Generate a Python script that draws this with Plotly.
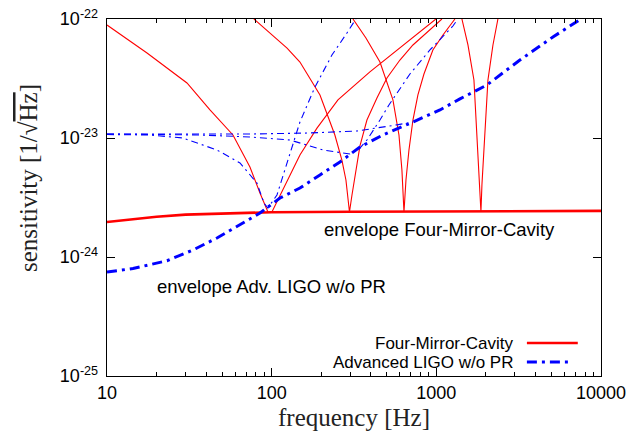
import plotly.graph_objects as go

# ---------------- data ----------------
# Four-Mirror-Cavity: envelope
fmc_env_f = [10, 15, 20, 30, 50, 100, 300, 1000, 3000, 10000]
fmc_env_s = [1.97e-24, 2.10e-24, 2.18e-24, 2.27e-24, 2.33e-24, 2.38e-24, 2.40e-24, 2.41e-24, 2.42e-24, 2.44e-24]

# Four-Mirror-Cavity: individual detunings
fmc1_f = [10, 17.5, 30.6, 42.2, 58.2, 73.8, 84.9, 94.9, 100.4, 124, 148.5, 188.4, 252.7, 395, 601, 994]
fmc1_s = [8.9e-23, 5.18e-23, 2.9e-23, 1.72e-23, 1.06e-23, 5.71e-24, 3.45e-24, 2.39e-24, 2.39e-24,
          4.27e-24, 7.2e-24, 1.21e-23, 2.09e-23, 3.59e-23, 5.71e-23, 1.0e-22]

fmc2_f = [78, 124, 148.5, 196.5, 242, 267, 282.5, 296.8, 307.4, 320.4, 343.7, 378.9, 435.8, 501.3, 601, 721, 1081]
fmc2_s = [1.0e-22, 5.7e-23, 4.35e-23, 2.3e-23, 1.06e-23, 6.53e-24, 4.44e-24, 2.39e-24, 3.32e-24,
          4.89e-24, 8.57e-24, 1.416e-23, 2.17e-23, 3.19e-23, 4.52e-23, 6.05e-23, 1.0e-22]

fmc3_f = [311.7, 373.7, 454.6, 545, 593, 618, 636, 654, 682, 721, 773, 841, 953, 1097, 1297]
fmc3_s = [1.0e-22, 6.92e-23, 4.35e-23, 2.09e-23, 1.06e-23, 5.38e-24, 2.39e-24, 4.44e-24, 7.93e-24,
          1.416e-23, 2.3e-23, 3.45e-23, 5.49e-23, 7.34e-23, 1.0e-22]

fmc4_f = [1430, 1556, 1692, 1789, 1840, 1866, 1892, 1945, 2058, 2207, 2366]
fmc4_s = [1.0e-22, 6.05e-23, 3.07e-23, 8.24e-24, 4.03e-24, 2.39e-24, 4.03e-24, 8.24e-24, 3.07e-23, 6.05e-23, 1.0e-22]

# Advanced LIGO w/o PR: envelope
ligo_env_f = [10, 14.38, 23.14, 33.28, 46.55, 64.2, 84.9, 112.3, 148.5, 196.5, 259.8, 343.7,
              474, 721, 1052, 1391, 2029, 3218, 5105, 7551]
ligo_env_s = [7.48e-25, 8.0e-25, 9.3e-25, 1.145e-24, 1.445e-24, 1.857e-24, 2.34e-24, 3.13e-24,
              3.80e-24, 4.89e-24, 6.29e-24, 8.40e-24, 1.06e-23, 1.362e-23, 1.72e-23, 2.13e-23,
              2.79e-23, 4.52e-23, 7.06e-23, 1.0e-22]

# Advanced LIGO w/o PR: individual detunings
ligo1_f = [10, 36.7, 73.8, 164, 330, 577, 721]
ligo1_s = [1.08e-23, 1.08e-23, 1.08e-23, 1.10e-23, 1.145e-23, 1.29e-23, 1.36e-23]

ligo2_f = [10, 18.2, 28.9, 46.55, 64.2, 81.4, 89.8, 94.9, 107.7, 124, 148.5, 183.2, 232.3, 286.5, 324.9]
ligo2_s = [1.07e-23, 1.06e-23, 1.0e-23, 7.93e-24, 6.17e-24, 4.18e-24, 2.84e-24, 2.58e-24, 3.32e-24,
           6.29e-24, 1.362e-23, 2.68e-23, 4.98e-23, 7.63e-23, 1.0e-22]

ligo3_f = [10, 36.7, 73.8, 129.2, 204.9, 298.8, 343.7, 378.9, 454.6, 515.5, 691.3, 914.5, 1261, 1352]
ligo3_s = [1.08e-23, 1.06e-23, 1.02e-23, 9.62e-24, 7.93e-24, 7.34e-24, 8.24e-24, 9.62e-24,
           1.416e-23, 1.894e-23, 3.45e-23, 5.49e-23, 8.73e-23, 1.0e-22]

x_ticks = [10, 100, 1000, 10000]
x_ticktext = ["10", "100", "1000", "10000"]
x_minor = [20, 30, 40, 50, 60, 70, 80, 90, 200, 300, 400, 500, 600, 700, 800, 900,
           2000, 3000, 4000, 5000, 6000, 7000, 8000, 9000]
y_ticks = [1e-25, 1e-24, 1e-23, 1e-22]
y_ticktext = ["10<sup>-25</sup>", "10<sup>-24</sup>", "10<sup>-23</sup>", "10<sup>-22</sup>"]

legend_labels = ["Four-Mirror-Cavity", "Advanced LIGO w/o PR"]
x_title = "frequency [Hz]"
y_title = "sensitivity [1/√<span style='text-decoration:overline'>Hz</span>]"

RED = "#ff0000"
BLUE = "#0000ff"
THIN_DASH = "7px,4px,2px,4px"
THICK_DASH = "10px,5px,3px,5px"

fig = go.Figure()

for f, s in [(fmc1_f, fmc1_s), (fmc2_f, fmc2_s), (fmc3_f, fmc3_s), (fmc4_f, fmc4_s)]:
    fig.add_trace(go.Scatter(x=f, y=s, mode="lines", line=dict(color=RED, width=1.1),
                             showlegend=False, hoverinfo="skip"))
fig.add_trace(go.Scatter(x=fmc_env_f, y=fmc_env_s, mode="lines", line=dict(color=RED, width=2.6),
                         showlegend=False, hoverinfo="skip"))

for f, s in [(ligo1_f, ligo1_s), (ligo2_f, ligo2_s), (ligo3_f, ligo3_s)]:
    fig.add_trace(go.Scatter(x=f, y=s, mode="lines", line=dict(color=BLUE, width=1.1, dash=THIN_DASH),
                             showlegend=False, hoverinfo="skip"))
fig.add_trace(go.Scatter(x=ligo_env_f, y=ligo_env_s, mode="lines",
                         line=dict(color=BLUE, width=3, dash=THICK_DASH),
                         showlegend=False, hoverinfo="skip"))
# invisible trace on the top/right axes so that their ticks are drawn
fig.add_trace(go.Scatter(x=[10, 10000], y=[1e-25, 1e-25], xaxis="x2", yaxis="y2", mode="lines",
                         line=dict(width=0), opacity=0, showlegend=False, hoverinfo="skip"))

sans = "Liberation Sans"
serif = "Liberation Serif"

common_x = dict(
    type="log", range=[1, 4],
    tickmode="array", tickvals=x_ticks,
    ticks="inside", ticklen=8, tickwidth=1, tickcolor="black",
    minor=dict(tickmode="array", tickvals=x_minor, ticks="inside", ticklen=4,
               tickwidth=1, tickcolor="black", showgrid=False),
    showline=True, linecolor="black", linewidth=1.3,
    showgrid=False, zeroline=False, automargin=False,
)
common_y = dict(
    type="log", range=[-25, -22],
    tickmode="array", tickvals=y_ticks,
    ticks="inside", ticklen=8, tickwidth=1, tickcolor="black",
    showline=True, linecolor="black", linewidth=1.3,
    showgrid=False, zeroline=False, automargin=False,
)

L, T, W, H = 107, 19, 642 - 107 - 41, 435 - 19 - 59

fig.update_layout(
    width=642, height=435,
    margin=dict(l=L, r=41, t=T, b=59),
    paper_bgcolor="white", plot_bgcolor="white",
    showlegend=False,
    xaxis=dict(
        **common_x,
        ticktext=x_ticktext,
        tickfont=dict(family=sans, size=18, color="black"),
        title=dict(text=x_title, font=dict(family=serif, size=25, color="#222"), standoff=6),
    ),
    xaxis2=dict(**common_x, overlaying="x", side="top", showticklabels=False),
    yaxis=dict(
        **common_y,
        ticktext=y_ticktext,
        ticklabelstandoff=4,
        tickfont=dict(family=sans, size=18, color="black"),
    ),
    yaxis2=dict(**common_y, overlaying="y", side="right", showticklabels=False),
    annotations=[
        dict(x=(28 - L) / W, y=(T + H - 178) / H, xref="paper", yref="paper", text=y_title,
             textangle=-90, showarrow=False, xanchor="center", yanchor="middle",
             font=dict(family=serif, size=25, color="#222")),
        dict(x=2.3054, y=-23.765, xref="x", yref="y", text="envelope Four-Mirror-Cavity",
             showarrow=False, xanchor="left", yanchor="middle",
             font=dict(family=sans, size=18.5, color="black")),
        dict(x=1.2914, y=-24.252, xref="x", yref="y", text="envelope Adv. LIGO w/o PR",
             showarrow=False, xanchor="left", yanchor="middle",
             font=dict(family=sans, size=18.5, color="black")),
        dict(x=0.826, y=0.0924, xref="paper", yref="paper", text=legend_labels[0],
             showarrow=False, xanchor="right", yanchor="middle",
             font=dict(family=sans, size=17, color="black")),
        dict(x=0.826, y=0.0392, xref="paper", yref="paper", text=legend_labels[1],
             showarrow=False, xanchor="right", yanchor="middle",
             font=dict(family=sans, size=17, color="black")),
    ],
    shapes=[
        dict(type="line", xref="paper", yref="paper", x0=0.850, x1=0.953, y0=0.0924, y1=0.0924,
             line=dict(color=RED, width=2.6)),
        dict(type="line", xref="paper", yref="paper", x0=0.850, x1=0.940, y0=0.0392, y1=0.0392,
             line=dict(color=BLUE, width=3, dash=THICK_DASH)),
    ],
)

fig.write_html("out.html", config={"displayModeBar": False, "staticPlot": True},
               post_script="document.body.style.margin='0';document.body.style.padding='0';")
